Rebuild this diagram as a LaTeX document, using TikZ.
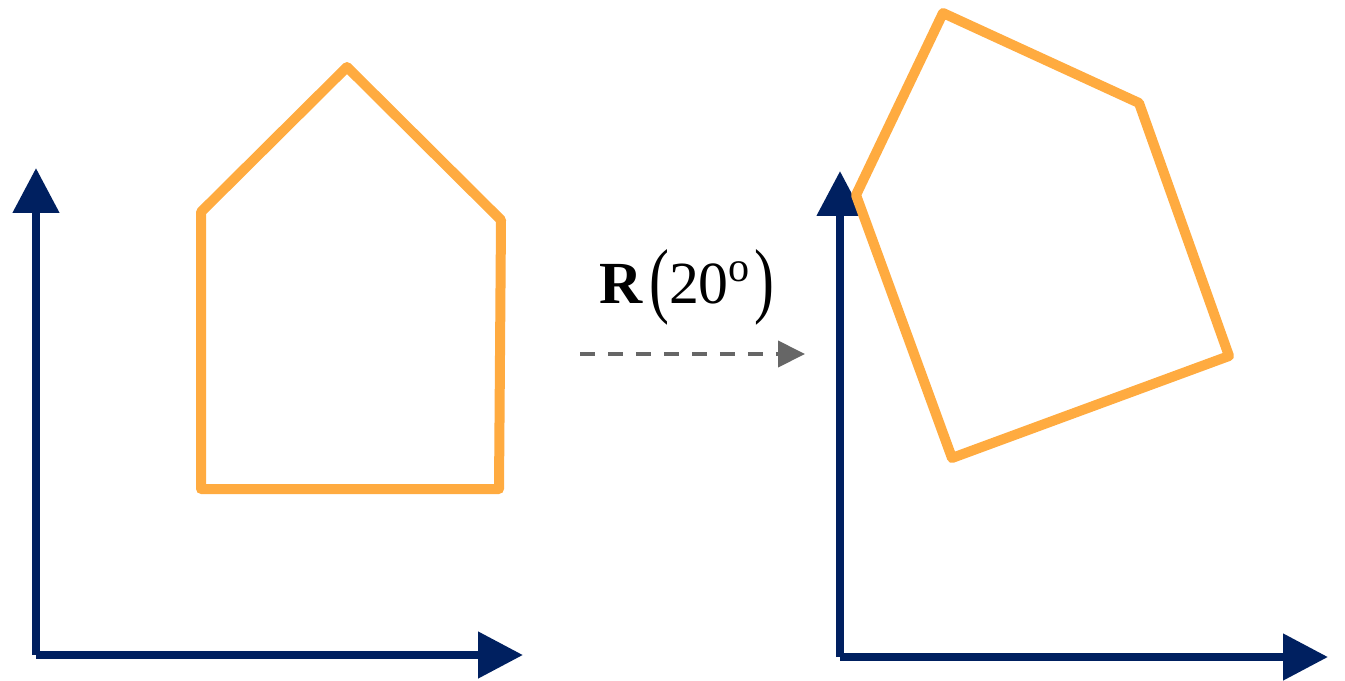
\documentclass[tikz,border=0pt]{standalone}
\usepackage{fontspec}
\usepackage{graphicx}
\setmainfont{Liberation Serif}
\usetikzlibrary{arrows.meta, positioning, calc}
\definecolor{navy}{HTML}{002060}
\definecolor{house}{HTML}{FFAB40}
\definecolor{greyArrow}{HTML}{666666}
\tikzset{
  axisLine/.style = {draw=navy, line width=0.16cm,
    -{Triangle[length=0.9cm, width=0.9cm]}},
  shapeLine/.style = {draw=house, line width=0.2cm, line join=round},
  rotArrow/.style = {draw=greyArrow, line width=0.08cm,
    dash pattern=on 0.3cm off 0.26cm,
    -{Triangle[length=0.54cm, width=0.52cm]}},
  rotLabel/.style = {font=\fontsize{34pt}{38pt}\selectfont, inner sep=0pt, anchor=base},
}
\newcommand{\tallParen}[1]{\raisebox{-0.075em}{\scalebox{1}[1.4]{#1}}}
\newcommand{\degO}{\raisebox{0.36em}{\fontsize{24pt}{26pt}\selectfont o}}

\begin{document}
\begin{tikzpicture}[x=0.02cm, y=-0.02cm]
\useasboundingbox (0,0) rectangle (1345,680);

% left frame
\coordinate (o1) at (36,655);
\coordinate (xt1) at (523,655);
\coordinate (yt1) at (36,168);
\draw[axisLine] (o1) -- (yt1);
\draw[axisLine] (o1) -- (xt1);

% house before rotation
\coordinate (a1) at (201,212);
\coordinate (b1) at (347,67);
\coordinate (c1) at (501,220);
\coordinate (d1) at (499,489);
\coordinate (e1) at (201,489);
\draw[shapeLine] (a1) -- (b1) -- (c1) -- (d1) -- (e1) -- cycle;

% rotation
\coordinate (r1) at (580,354);
\coordinate (r2) at (805,354);
\draw[rotArrow] (r1) -- (r2);
\node[rotLabel] (rlab) at (687,303)
  {\textbf{R}\hspace{0.1em}\tallParen{(}20\degO\hspace{0.08em}\tallParen{)}};

% right frame
\coordinate (o2) at (840,657);
\coordinate (xt2) at (1328,657);
\coordinate (yt2) at (840,171);
\draw[axisLine] (o2) -- (yt2);
\draw[axisLine] (o2) -- (xt2);

% house after rotation
\coordinate (a2) at (856,195);
\coordinate (b2) at (943,13);
\coordinate (c2) at (1139,103);
\coordinate (d2) at (1229,356);
\coordinate (e2) at (952,458);
\draw[shapeLine] (a2) -- (b2) -- (c2) -- (d2) -- (e2) -- cycle;

\end{tikzpicture}
\end{document}
